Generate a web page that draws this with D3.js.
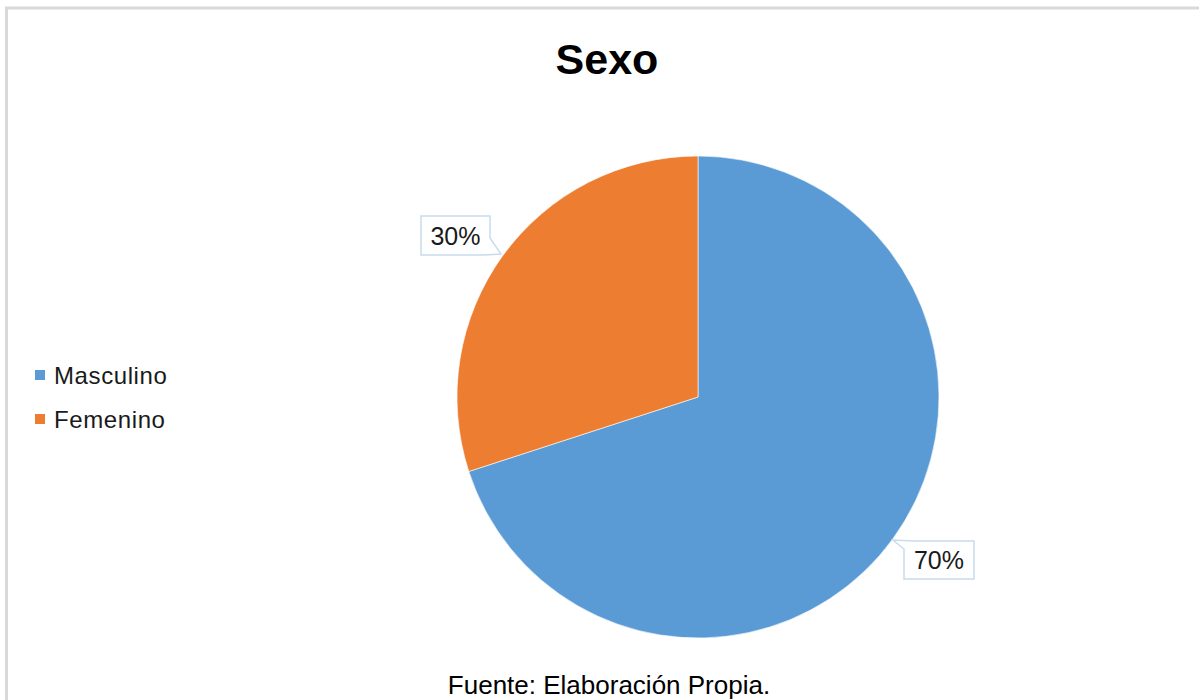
<!DOCTYPE html>
<html>
<head>
<meta charset="utf-8">
<script src="https://cdn.jsdelivr.net/npm/d3@7"></script>
<style>
  html, body { margin: 0; padding: 0; background: #ffffff; }
  svg { display: block; }
</style>
</head>
<body>
<svg id="chart" width="1199" height="700"></svg>
<script>
// Gender distribution of respondents
const categories = ["Masculino", "Femenino"];
const values = [70, 30];
const valueLabels = ["70%", "30%"];
const colors = ["#5B9BD5", "#ED7D31"];
const title = "Sexo";
const source = "Fuente: Elaboración Propia.";

const svg = d3.select("#chart");
const W = 1199, H = 700;
const font = "'Liberation Sans', Arial, sans-serif";

// outer frame (top and left edges visible)
svg.append("path")
  .attr("d", "M6.5,700 L6.5,8 L1199,8")
  .attr("fill", "none")
  .attr("stroke", "#d9d9d9")
  .attr("stroke-width", 3);

// title
svg.append("text")
  .attr("x", 607).attr("y", 74)
  .attr("text-anchor", "middle")
  .attr("font-family", font)
  .attr("font-weight", "bold")
  .attr("font-size", 43)
  .attr("fill", "#000")
  .text(title);

// pie
const cx = 698, cy = 397, r = 241;
const pie = d3.pie().sort(null).value(d => d)(values);
const arc = d3.arc().innerRadius(0).outerRadius(r);
const g = svg.append("g").attr("transform", `translate(${cx},${cy})`);
g.selectAll("path.slice")
  .data(pie)
  .join("path")
  .attr("class", "slice")
  .attr("d", arc)
  .attr("fill", (d, i) => colors[i])
  .attr("stroke", "#ffffff")
  .attr("stroke-width", 0.6);

// callout data labels
const defs = svg.append("defs");
const filt = defs.append("filter").attr("id", "soft").attr("x", "-20%").attr("y", "-20%").attr("width", "140%").attr("height", "140%");
filt.append("feGaussianBlur").attr("stdDeviation", 0.6);

// box geometry relative to label anchor, wedge pointing toward slice
const callouts = [
  { box: [904, 541, 70, 38], tip: [893, 540], base: [[904, 549], [914, 541]] },
  { box: [421, 216, 69, 39], tip: [501, 254], base: [[490, 238], [484, 255]] }
];

callouts.forEach((c, i) => {
  const [bx, by, bw, bh] = c.box;
  let path;
  if (i === 0) {
    // wedge on top-left corner
    path = `M${bx + 10},${by} L${bx + bw},${by} L${bx + bw},${by + bh} L${bx},${by + bh} L${bx},${by + 8} L${c.tip[0]},${c.tip[1]} Z`;
  } else {
    // wedge on bottom-right corner
    path = `M${bx},${by} L${bx + bw},${by} L${bx + bw},${by + 22} L${c.tip[0]},${c.tip[1]} L${bx + bw - 6},${by + bh} L${bx},${by + bh} Z`;
  }
  svg.append("path")
    .attr("d", path)
    .attr("fill", "#ffffff")
    .attr("stroke", "#c9dcee")
    .attr("stroke-width", 1.5)
    .attr("stroke-linejoin", "miter");
  svg.append("text")
    .attr("x", bx + bw / 2).attr("y", by + bh / 2 + 9)
    .attr("text-anchor", "middle")
    .attr("font-family", font)
    .attr("font-size", 25)
    .attr("fill", "#1a1a1a")
    .text(valueLabels[i]);
});

// legend
const legend = svg.append("g");
categories.forEach((c, i) => {
  const y = 375 + i * 44;
  legend.append("rect")
    .attr("x", 35).attr("y", y - 5)
    .attr("width", 10).attr("height", 10)
    .attr("fill", colors[i]);
  legend.append("text")
    .attr("x", 54).attr("y", y + 9)
    .attr("font-family", font)
    .attr("font-size", 24)
    .attr("letter-spacing", 0.6)
    .attr("fill", "#1a1a1a")
    .text(c);
});

// source note
svg.append("text")
  .attr("x", 609).attr("y", 694)
  .attr("text-anchor", "middle")
  .attr("font-family", font)
  .attr("font-size", 26)
  .attr("fill", "#000")
  .text(source);
</script>
</body>
</html>
